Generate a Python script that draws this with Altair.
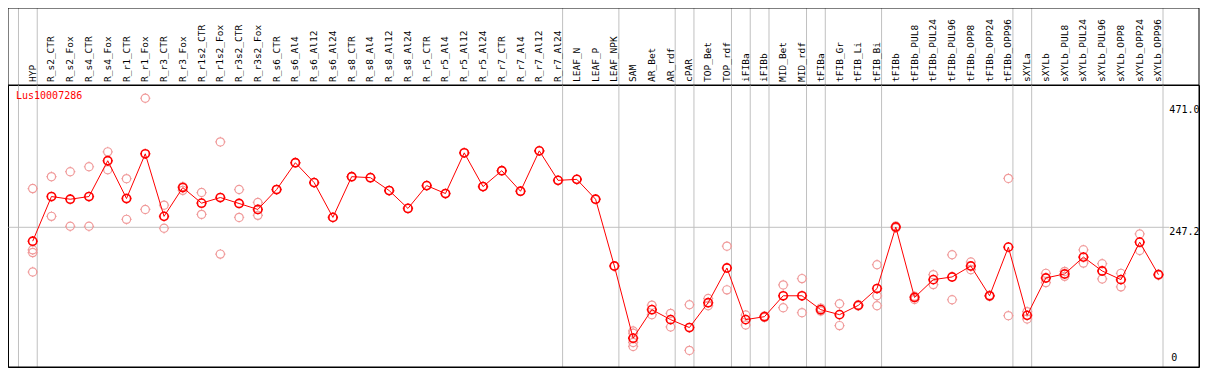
import altair as alt
import pandas as pd

# ---------------- data ----------------
categories = ["HYP", "R_s2_CTR", "R_s2_Fox", "R_s4_CTR", "R_s4_Fox", "R_r1_CTR", "R_r1_Fox",
              "R_r3_CTR", "R_r3_Fox", "R_r1s2_CTR", "R_r1s2_Fox", "R_r3s2_CTR", "R_r3s2_Fox",
              "R_s6_CTR", "R_s6_Al4", "R_s6_Al12", "R_s6_Al24", "R_s8_CTR", "R_s8_Al4",
              "R_s8_Al12", "R_s8_Al24", "R_r5_CTR", "R_r5_Al4", "R_r5_Al12", "R_r5_Al24",
              "R_r7_CTR", "R_r7_Al4", "R_r7_Al12", "R_r7_Al24", "LEAF_N", "LEAF_P", "LEAF_NPK",
              "SAM", "AR_Bet", "AR_rdf", "cPAR", "TOP_Bet", "TOP_rdf", "iFIBa", "iFIBb",
              "MID_Bet", "MID_rdf", "tFIBa", "tFIB_Gr", "tFIB_Li", "tFIB_Bi", "tFIBb",
              "tFIBb_PUL8", "tFIBb_PUL24", "tFIBb_PUL96", "tFIBb_OPP8", "tFIBb_OPP24",
              "tFIBb_OPP96", "sXYLa", "sXYLb", "sXYLb_PUL8", "sXYLb_PUL24", "sXYLb_PUL96",
              "sXYLb_OPP8", "sXYLb_OPP24", "sXYLb_OPP96"]

mean_values = [221.8, 303.4, 298.5, 303.4, 368.8, 299.8, 381.5, 267.2, 319.8, 291.3, 301.6,
               290.7, 279.8, 316.2, 365.2, 328.9, 265.3, 339.7, 337.9, 314.3, 281.7, 323.4,
               308.9, 383.3, 321.6, 350.6, 313.1, 386.9, 333.0, 334.8, 298.5, 176.4, 44.5,
               96.6, 78.4, 63.9, 109.3, 172.8, 78.4, 83.8, 122.0, 122.0, 96.6, 87.5, 104.4,
               135.2, 247.7, 118.9, 151.5, 156.4, 176.4, 122.0, 210.9, 86.2, 154.6, 161.9,
               192.7, 167.3, 151.5, 220.0, 160.6]

replicates = [
    [318.0, 206.0, 201.0, 165.5], [339.7, 267.2], [348.8, 249.0], [357.9, 249.0],
    [385.1, 352.4], [336.1, 261.7], [483.1, 279.8], [287.7, 245.4], [321.6, 314.7],
    [310.7, 270.8], [403.3, 198.2], [316.2, 265.3], [292.6, 269.0],
    [316.2], [365.2], [328.9], [265.3], [339.7], [337.9], [314.3], [281.7], [323.4],
    [308.9], [383.3], [321.6], [350.6], [313.1], [386.9], [333.0], [334.8], [298.5], [176.4],
    [57.7, 53.5, 36.7, 29.4], [104.9, 87.5], [89.8, 65.0], [105.6, 22.1], [117.0, 103.8],
    [212.7, 132.8], [86.8, 68.6], [85.0, 82.5], [141.9, 100.2], [153.4, 91.1], [99.5, 94.0],
    [107.4, 67.5], [105.5, 103.5], [178.8, 122.0, 103.8], [249.5, 246.0], [115.2, 121.0],
    [160.6, 142.5], [196.9, 114.7], [183.7, 169.7], [123.0, 121.0], [336.6, 85.7],
    [79.5, 93.0], [163.0, 146.1], [166.6, 157.5], [206.0, 181.8], [180.6, 152.8],
    [163.0, 138.3], [235.0, 204.7], [161.5, 159.5],
]

# group separators: after these category indices
separator_after = [-1, 0, 28, 31, 34, 35, 37, 38, 39, 41, 42, 45, 52, 53, 60]

gene_name = "Lus10007286"
ytick_values = [471.0, 247.2, 0.0]
ytick_labels = ["471.0", "247.2", "0"]
grid_value = 247.2

# ---------------- layout ----------------
W = 1191      # plot width
H = 282       # plot height
HT = 77       # header (labels) height
FONT = "DejaVu Sans Mono"

xscale = alt.Scale(domain=[-1.316, 62.16], nice=False, zero=False)
yscale = alt.Scale(domain=[-8.2, 507.3], nice=False, zero=False)

means_df = pd.DataFrame({"idx": range(len(categories)), "cat": categories, "v": mean_values})
reps_df = pd.DataFrame([{"idx": i, "v": r} for i, rs in enumerate(replicates) for r in rs])
sep_df = pd.DataFrame({"gx": [i + 0.242 for i in separator_after]})
hgrid_df = pd.DataFrame({"x0": [-1.316], "x1": [60.58], "v": [grid_value]})
ytick_df = pd.DataFrame({"v": ytick_values, "lab": ytick_labels, "xi": [60.58] * 3,
                         "pos": ["top", "top", "bottom"]})
one = pd.DataFrame({"a": [0]})

SYM = ("M -0.8 0 A 0.8 0.8 0 1 1 0.8 0 A 0.8 0.8 0 1 1 -0.8 0 "
       "M 0 -0.8 L 0 -1 M 0 0.8 L 0 1 M -0.8 0 L -1 0 M 0.8 0 L 1 0")

X = lambda f: alt.X(f, scale=xscale, axis=None)
Y = lambda f: alt.Y(f, scale=yscale, axis=None)

frame = alt.Chart(one).mark_rect(filled=False, stroke="black", strokeWidth=1).encode(
    x=alt.value(0), x2=alt.value(W), y=alt.value(-HT), y2=alt.value(H))

vgrid = alt.Chart(sep_df).mark_rule(color="#c0c0c0", strokeWidth=1).encode(
    x=X("gx:Q"), y=alt.value(-HT), y2=alt.value(H))

hgrid = alt.Chart(hgrid_df).mark_rule(color="#c0c0c0", strokeWidth=1).encode(
    x=X("x0:Q"), x2="x1:Q", y=Y("v:Q"))

sep_line = alt.Chart(one).mark_rule(color="black", strokeWidth=1).encode(
    x=alt.value(0), x2=alt.value(W), y=alt.value(0))

cat_labels = alt.Chart(means_df).mark_text(
    angle=270, align="left", baseline="middle", font=FONT, fontSize=9.5, color="black"
).encode(x=X("idx:Q"), y=alt.value(-3), text="cat:N")

ylab_top = alt.Chart(ytick_df[ytick_df.pos == "top"]).mark_text(
    align="left", baseline="top", font=FONT, fontSize=10, color="black", dx=0
).encode(x=X("xi:Q"), y=Y("v:Q"), text="lab:N")

ylab_bot = alt.Chart(ytick_df[ytick_df.pos == "bottom"]).mark_text(
    align="left", baseline="bottom", font=FONT, fontSize=10, color="black", dx=2
).encode(x=X("xi:Q"), y=Y("v:Q"), text="lab:N")

rep_pts = alt.Chart(reps_df).mark_point(
    shape=SYM, size=105, filled=False, color="#f09a9a", strokeWidth=1.2, opacity=1
).encode(x=X("idx:Q"), y=Y("v:Q"))

line = alt.Chart(means_df).mark_line(color="#ff0000", strokeWidth=1).encode(
    x=X("idx:Q"), y=Y("v:Q"))

mean_pts = alt.Chart(means_df).mark_point(
    shape=SYM, size=105, filled=False, color="#ff0000", strokeWidth=1.6, opacity=1
).encode(x=X("idx:Q"), y=Y("v:Q"))

title = alt.Chart(one).mark_text(
    align="left", baseline="middle", font=FONT, fontSize=10, color="#ff0000"
).encode(x=alt.value(8), y=alt.value(11), text=alt.value(gene_name))

chart = alt.layer(
    vgrid, hgrid, frame, sep_line, cat_labels, ylab_top, ylab_bot, rep_pts, line, mean_pts, title
).properties(
    width=W, height=H,
    autosize=alt.AutoSizeParams(type="none"),
    padding={"left": 0, "top": HT, "right": 1, "bottom": 1},
).configure_view(stroke="black", strokeWidth=1)

chart.save("out.html", embed_options={"renderer": "svg", "actions": False})
